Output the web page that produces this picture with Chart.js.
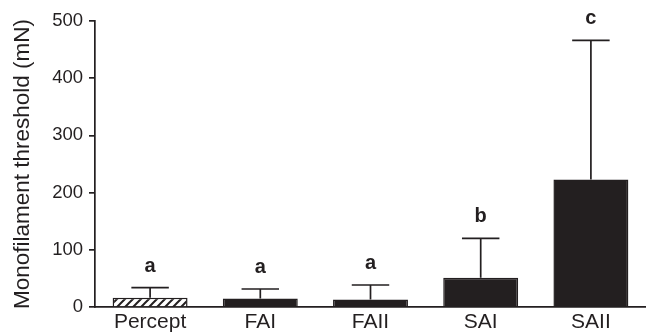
<!DOCTYPE html>
<html>
<head>
<meta charset="utf-8">
<script src="https://cdn.jsdelivr.net/npm/chart.js@4/dist/chart.umd.min.js"></script>
<style>
html,body{margin:0;padding:0;background:#fff;}
#wrap{width:646px;height:336px;position:relative;}
</style>
</head>
<body>
<div id="wrap"><canvas id="c" width="646" height="336"></canvas></div>
<script>
const categories = ['Percept', 'FAI', 'FAII', 'SAI', 'SAII'];
const means = [16, 15, 13, 51, 223];
const sd = [18, 16.5, 25.5, 69, 243];
const letters = ['a', 'a', 'a', 'b', 'c'];
const yTicks = [0, 100, 200, 300, 400, 500];

const INK = '#231f20';
const FONT = '"Liberation Sans", Arial, sans-serif';

function hatchPattern() {
  const s = 8;
  const pc = document.createElement('canvas');
  pc.width = s; pc.height = s;
  const g = pc.getContext('2d');
  g.fillStyle = '#ffffff';
  g.fillRect(0, 0, s, s);
  g.strokeStyle = INK;
  g.lineWidth = 2;
  g.beginPath();
  g.moveTo(0, s); g.lineTo(s, 0);
  g.moveTo(-2, 2); g.lineTo(2, -2);
  g.moveTo(s - 2, s + 2); g.lineTo(s + 2, s - 2);
  g.stroke();
  return g.createPattern(pc, 'repeat');
}

const ctx0 = document.getElementById('c').getContext('2d');
const hatch = hatchPattern();
const fills = categories.map((c, i) => i === 0 ? hatch : INK);

const errorBars = {
  id: 'errorBars',
  afterDatasetsDraw(chart) {
    const ctx = chart.ctx;
    const meta = chart.getDatasetMeta(0);
    const ys = chart.scales.y;
    ctx.save();
    ctx.strokeStyle = INK;
    ctx.lineWidth = 1.7;
    ctx.fillStyle = INK;
    ctx.font = 'bold 20px ' + FONT;
    ctx.textAlign = 'center';
    ctx.textBaseline = 'alphabetic';
    meta.data.forEach((bar, i) => {
      const x = bar.x;
      const yTop = ys.getPixelForValue(means[i]);
      const yCap = ys.getPixelForValue(means[i] + sd[i]);
      const half = bar.width / 4;
      ctx.beginPath();
      ctx.moveTo(x, yTop);
      ctx.lineTo(x, yCap);
      ctx.moveTo(x - half, yCap);
      ctx.lineTo(x + half, yCap);
      ctx.stroke();
      ctx.fillText(letters[i], x, yCap - 16);
    });
    ctx.restore();
  }
};

new Chart(ctx0, {
  type: 'bar',
  data: {
    labels: categories,
    datasets: [{
      data: means,
      backgroundColor: fills,
      borderColor: INK,
      borderWidth: 1.5,
      categoryPercentage: 1.0,
      barPercentage: 0.68
    }]
  },
  options: {
    responsive: false,
    animation: false,
    events: [],
    layout: { padding: { top: 21, right: 0, bottom: 0, left: 0 } },
    plugins: { legend: { display: false }, tooltip: { enabled: false } },
    scales: {
      x: {
        grid: { display: false, drawTicks: false },
        border: { display: true, color: INK, width: 1.7 },
        ticks: {
          color: INK,
          padding: 3,
          font: { family: FONT, size: 21 }
        },
        afterFit(scale) { scale.height = 29; }
      },
      y: {
        min: 0,
        max: 500,
        afterBuildTicks(scale) { scale.ticks = yTicks.map(v => ({ value: v })); },
        grid: { drawOnChartArea: false, drawTicks: true, tickLength: 6, color: INK, lineWidth: 1.7 },
        border: { display: true, color: INK, width: 1.7 },
        ticks: {
          color: INK,
          padding: 6,
          font: { family: FONT, size: 18.5 }
        },
        title: {
          display: true,
          text: 'Monofilament threshold (mN)',
          color: INK,
          padding: { top: 9, bottom: 0 },
          font: { family: FONT, size: 22.5 }
        },
        afterFit(scale) { scale.width = 95; }
      }
    }
  },
  plugins: [errorBars]
});
</script>
</body>
</html>
